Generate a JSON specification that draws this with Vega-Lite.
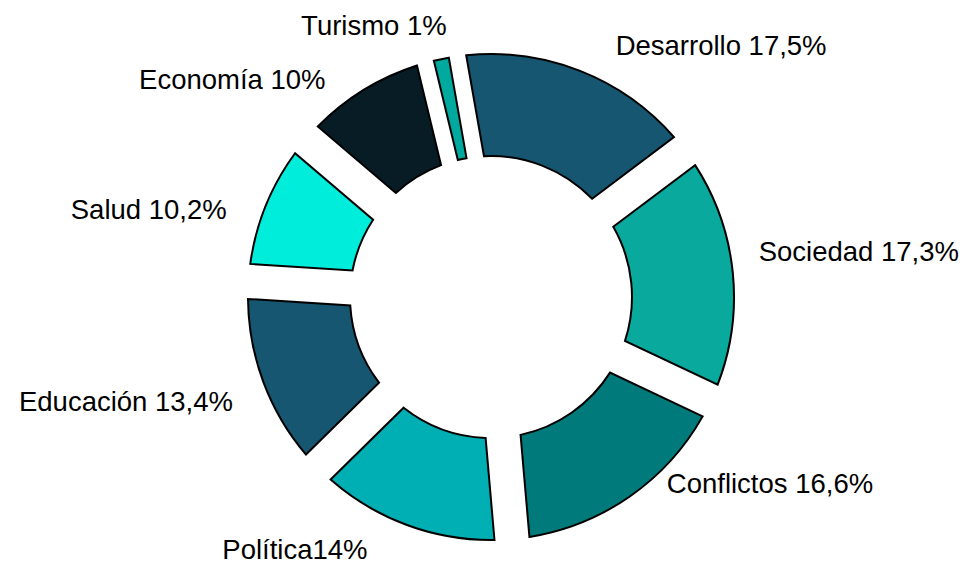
{
  "$schema": "https://vega.github.io/schema/vega-lite/v6.json",
  "width": 982,
  "height": 594,
  "autosize": {"type": "none"},
  "padding": 0,
  "background": "white",
  "view": {"stroke": null},
  "data": {
    "values": [
      {"orden": 1, "categoria": "Desarrollo", "valor": 17.5, "etiqueta": "Desarrollo 17,5%"},
      {"orden": 2, "categoria": "Sociedad", "valor": 17.3, "etiqueta": "Sociedad 17,3%"},
      {"orden": 3, "categoria": "Conflictos", "valor": 16.6, "etiqueta": "Conflictos 16,6%"},
      {"orden": 4, "categoria": "Política", "valor": 14, "etiqueta": "Política14%"},
      {"orden": 5, "categoria": "Educación", "valor": 13.4, "etiqueta": "Educación 13,4%"},
      {"orden": 6, "categoria": "Salud", "valor": 10.2, "etiqueta": "Salud 10,2%"},
      {"orden": 7, "categoria": "Economía", "valor": 10, "etiqueta": "Economía 10%"},
      {"orden": 8, "categoria": "Turismo", "valor": 1, "etiqueta": "Turismo 1%"}
    ]
  },
  "encoding": {
    "theta": {"field": "valor", "type": "quantitative", "stack": true, "scale": {"domain": [0, 100], "range": [-0.1745, 6.1087]}},
    "order": {"field": "orden", "type": "quantitative"},
    "color": {
      "field": "categoria", "type": "nominal", "legend": null,
      "scale": {
        "domain": ["Desarrollo", "Sociedad", "Conflictos", "Política", "Educación", "Salud", "Economía", "Turismo"],
        "range": ["#165670", "#0AA99E", "#007A7A", "#00AFB3", "#165670", "#00EDDC", "#071C24", "#00A99D"]
      }
    }
  },
  "layer": [
    {
      "mark": {"type": "arc", "outerRadius": 243, "innerRadius": 141, "padAngle": 0.125, "stroke": "black", "strokeWidth": 2},
      "encoding": {
        "opacity": {"condition": {"test": "datum.orden == 8", "value": 0}, "value": 1}
      }
    },
    {
      "mark": {"type": "arc", "outerRadius": 243, "innerRadius": 141, "padAngle": 0, "stroke": "black", "strokeWidth": 2},
      "encoding": {
        "opacity": {"condition": {"test": "datum.orden == 8", "value": 1}, "value": 0}
      }
    },
    {
      "mark": {"type": "text", "radius": 250, "align": "left", "baseline": "middle", "font": "Liberation Sans", "fontSize": 27.5, "dx": 33, "dy": -17},
      "encoding": {
        "text": {"field": "etiqueta"},
        "color": {"value": "black"},
        "opacity": {"condition": {"test": "datum.orden == 1 || datum.orden == 3", "value": 1}, "value": 0}
      }
    },
    {
      "mark": {"type": "text", "radius": 250, "align": "left", "baseline": "middle", "font": "Liberation Sans", "fontSize": 27.5, "dx": 19, "dy": -18},
      "encoding": {
        "text": {"field": "etiqueta"},
        "color": {"value": "black"},
        "opacity": {"condition": {"test": "datum.orden == 2", "value": 1}, "value": 0}
      }
    },
    {
      "mark": {"type": "text", "radius": 270, "align": "right", "baseline": "middle", "font": "Liberation Sans", "fontSize": 27.5, "dx": -30, "dy": 1},
      "encoding": {
        "text": {"field": "etiqueta"},
        "color": {"value": "black"},
        "opacity": {"condition": {"test": "datum.orden == 4", "value": 1}, "value": 0}
      }
    },
    {
      "mark": {"type": "text", "radius": 270, "align": "right", "baseline": "middle", "font": "Liberation Sans", "fontSize": 27.5, "dx": -5, "dy": 12},
      "encoding": {
        "text": {"field": "etiqueta"},
        "color": {"value": "black"},
        "opacity": {"condition": {"test": "datum.orden == 5", "value": 1}, "value": 0}
      }
    },
    {
      "mark": {"type": "text", "radius": 270, "align": "right", "baseline": "middle", "font": "Liberation Sans", "fontSize": 27.5, "dx": -14, "dy": 15},
      "encoding": {
        "text": {"field": "etiqueta"},
        "color": {"value": "black"},
        "opacity": {"condition": {"test": "datum.orden == 6", "value": 1}, "value": 0}
      }
    },
    {
      "mark": {"type": "text", "radius": 270, "align": "right", "baseline": "middle", "font": "Liberation Sans", "fontSize": 27.5, "dx": -24, "dy": 14},
      "encoding": {
        "text": {"field": "etiqueta"},
        "color": {"value": "black"},
        "opacity": {"condition": {"test": "datum.orden == 7", "value": 1}, "value": 0}
      }
    },
    {
      "mark": {"type": "text", "radius": 270, "align": "right", "baseline": "middle", "font": "Liberation Sans", "fontSize": 27.5, "dx": 11, "dy": -6},
      "encoding": {
        "text": {"field": "etiqueta"},
        "color": {"value": "black"},
        "opacity": {"condition": {"test": "datum.orden == 8", "value": 1}, "value": 0}
      }
    }
  ]
}
